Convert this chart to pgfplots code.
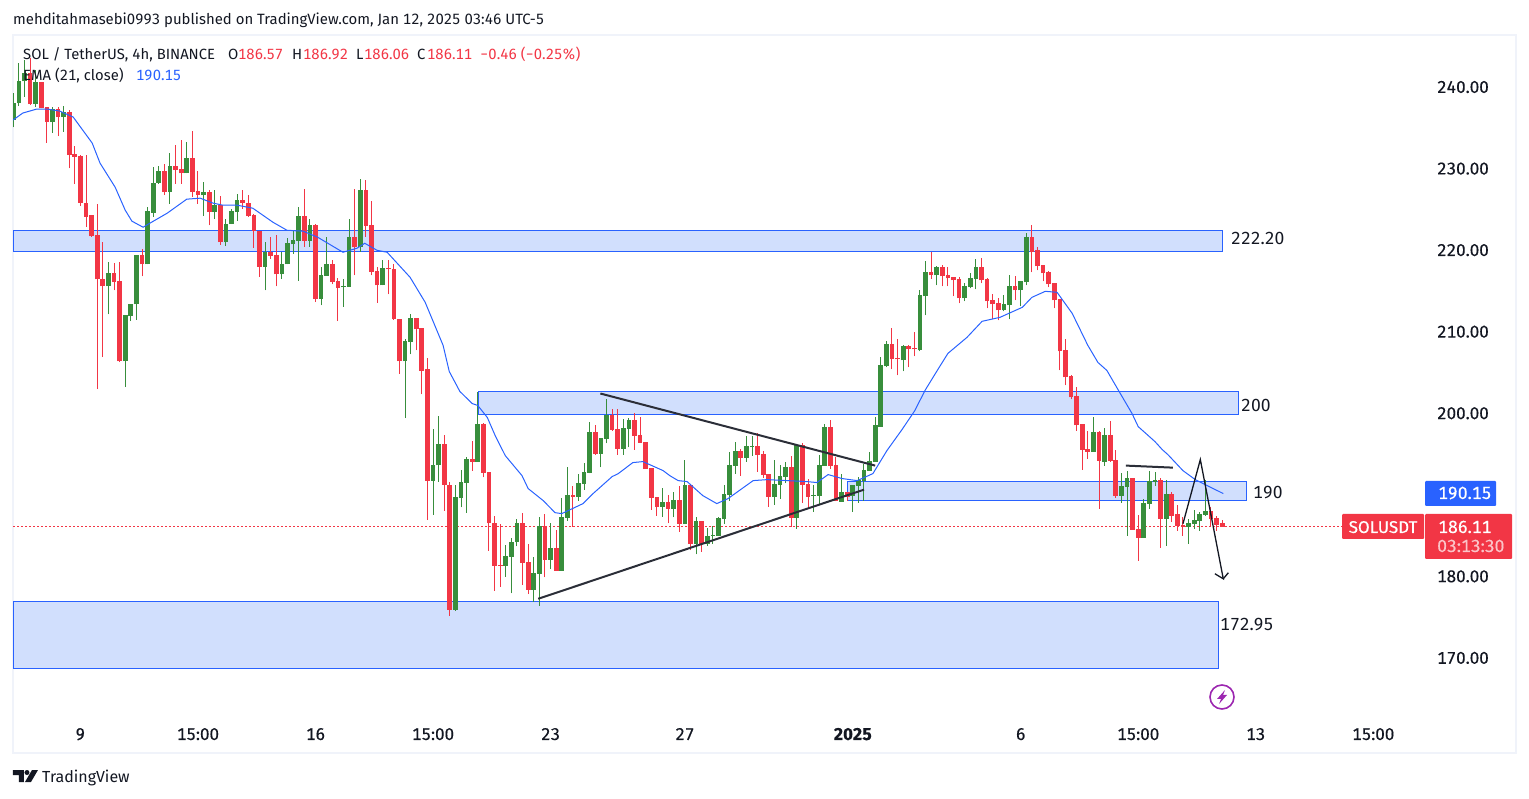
\documentclass[border=0pt]{standalone}
\usepackage{pgfplots}
\usepackage{pgfplotstable}
\usepackage{fontspec}
\setmainfont[Numbers=Monospaced]{Fira Sans}
\newfontfamily\heavy[Numbers=Monospaced, FakeBold=0.35]{Fira Sans}
\pgfplotsset{compat=1.18}

\definecolor{upc}{HTML}{388E3C}
\definecolor{dnc}{HTML}{F23645}
\definecolor{tvblue}{HTML}{2962FF}
\definecolor{zone}{HTML}{D1DFFD}
\definecolor{ink}{HTML}{131722}
\definecolor{pane}{HTML}{F0F3FA}
\definecolor{bolt}{HTML}{9C27B0}

% up candles (i open high low close)
\pgfplotstableread{
i o h l c
0 235.95 239.22 235.05 237.99
1 237.99 242.90 237.67 240.74
2 240.70 243.30 238.81 241.68
4 237.91 242.09 237.58 240.65
7 235.70 237.58 234.39 237.30
9 236.32 237.67 234.51 236.93
17 215.56 218.55 212.13 217.24
20 206.35 212.00 203.20 212.00
21 211.88 213.44 211.31 213.44
22 213.35 219.37 211.47 219.37
24 218.26 225.30 218.26 224.77
25 224.57 230.20 224.08 228.29
26 228.25 230.30 228.17 229.68
28 227.11 231.85 225.71 230.30
31 229.40 233.25 229.40 231.28
34 226.74 228.38 224.16 227.11
36 224.65 227.35 223.79 225.51
38 220.97 223.79 220.48 223.18
39 223.18 225.10 223.18 224.81
40 224.65 226.94 223.59 226.12
45 217.94 221.01 215.07 219.82
48 217.04 219.78 216.46 218.35
49 218.26 221.54 218.26 220.88
50 220.72 222.36 219.58 221.21
51 221.13 225.30 216.22 224.16
53 221.13 223.79 220.39 223.05
55 214.01 217.94 213.23 216.91
56 216.83 221.62 216.83 218.26
59 215.44 216.42 213.03 215.60
60 215.48 223.79 215.48 221.58
62 220.35 228.78 219.78 227.35
66 215.69 218.84 215.69 217.77
70 206.35 209.14 199.39 208.81
71 208.72 212.12 207.21 211.71
75 191.74 198.08 187.56 193.70
76 193.62 199.72 191.62 196.24
79 175.90 191.25 175.78 189.77
80 189.65 193.09 188.46 191.62
81 191.49 194.68 187.81 194.44
83 194.07 202.58 194.07 198.70
88 181.30 183.88 179.95 182.53
89 182.41 184.70 177.90 184.25
90 184.17 187.03 183.68 186.58
93 178.35 182.41 176.88 180.44
94 180.32 187.32 176.39 186.21
96 182.04 186.54 180.89 183.51
98 180.69 189.61 180.69 187.32
99 187.20 193.46 186.83 190.02
101 189.77 192.56 189.28 191.49
102 191.37 193.87 190.59 192.84
103 192.72 198.98 192.64 197.75
105 195.05 197.02 193.37 197.02
106 196.89 201.77 196.32 199.80
109 195.67 199.31 194.93 198.25
110 198.12 199.43 195.83 199.23
116 188.55 190.84 187.32 189.16
118 188.30 190.39 187.24 189.40
120 186.46 194.28 186.46 191.25
122 184.00 187.32 182.70 186.83
124 184.00 185.97 183.76 184.99
125 184.99 186.17 183.96 185.11
126 184.99 187.32 184.99 187.20
127 187.08 191.25 186.46 190.14
128 190.02 195.30 189.29 193.71
129 193.58 196.53 192.60 195.42
131 194.57 197.27 194.07 196.04
132 195.96 197.27 194.81 196.04
136 189.78 194.28 188.79 191.37
137 191.25 193.71 189.53 192.35
138 192.23 194.07 191.50 193.46
140 187.20 196.28 185.85 196.16
143 189.90 191.25 187.93 190.02
144 189.90 194.93 188.79 193.71
145 193.58 198.70 193.58 198.37
148 189.16 192.56 189.16 190.39
150 189.90 191.25 187.93 191.25
151 191.13 192.15 189.04 191.86
152 191.74 193.83 189.29 193.09
153 192.97 195.30 192.97 194.20
154 194.07 199.60 194.07 198.50
155 198.37 206.85 198.37 205.87
156 205.74 208.81 205.62 208.44
159 206.48 208.32 205.13 208.20
162 207.71 215.07 207.58 214.46
163 214.34 218.64 212.00 217.28
165 216.92 218.02 215.69 217.90
170 214.09 215.93 213.72 215.57
171 215.44 217.16 215.32 216.55
172 216.43 218.88 215.20 217.90
177 212.62 214.46 212.50 213.36
178 213.23 216.92 211.51 215.57
180 215.07 216.18 213.11 216.18
181 216.06 222.07 215.69 221.58
193 195.30 199.48 195.30 197.76
195 194.08 198.25 193.58 197.39
198 189.90 192.72 189.04 191.13
199 191.01 192.97 185.00 192.11
202 184.74 189.49 184.74 189.04
203 188.92 192.97 188.30 191.74
204 191.62 192.85 191.13 191.87
206 187.08 191.87 183.76 190.15
210 186.09 187.08 184.01 186.59
211 186.46 188.18 185.85 186.95
212 186.83 187.94 185.60 187.69
213 187.57 191.87 187.44 188.06
}\upcandles

% down candles (i open high low close)
\pgfplotstableread{
i o h l c
3 241.68 243.52 237.79 237.91
5 240.65 240.65 237.38 237.38
6 237.58 237.60 233.16 235.74
8 237.30 237.58 233.98 236.32
10 236.93 237.17 230.01 231.65
11 231.77 232.75 228.09 231.44
12 231.53 231.65 225.39 225.80
13 225.84 231.65 222.85 224.08
14 224.28 224.28 221.62 221.70
15 221.83 225.63 202.96 216.42
16 216.50 221.01 206.89 215.56
18 217.24 218.47 215.07 216.09
19 216.18 218.55 206.27 206.35
23 219.37 220.19 216.79 218.26
27 229.68 230.54 226.74 227.11
29 230.30 232.88 228.17 229.81
30 229.89 233.49 228.17 229.40
32 231.28 234.60 226.53 227.11
33 227.23 229.73 225.71 226.74
35 227.11 227.43 223.05 224.65
37 225.51 226.61 220.64 220.97
41 226.12 227.43 225.10 225.80
42 225.84 226.74 224.08 224.16
43 224.28 224.49 220.31 222.36
44 222.36 222.36 216.71 217.94
46 219.82 221.62 218.96 219.29
47 219.37 221.83 215.56 217.04
52 224.16 227.47 220.39 221.13
54 223.05 223.26 213.64 214.01
57 218.26 218.84 215.81 216.09
58 216.18 216.63 211.31 215.36
61 221.58 227.47 216.91 220.35
63 227.35 228.58 221.62 222.97
64 223.05 226.04 216.91 217.32
65 217.41 217.94 213.52 215.69
67 217.77 218.76 214.58 217.65
68 217.65 218.26 211.47 211.55
69 211.59 211.59 204.84 206.35
72 211.71 211.71 207.70 210.28
73 210.40 210.40 202.30 205.24
74 205.37 206.80 186.95 191.74
77 196.24 197.39 188.05 191.25
78 191.25 191.53 175.16 175.90
82 194.44 196.65 192.97 194.07
84 198.70 198.86 192.15 192.72
85 192.80 192.80 183.14 186.50
86 186.54 187.44 178.23 181.30
87 181.42 186.42 178.72 181.30
91 186.58 187.81 178.97 181.67
92 181.79 183.96 177.82 178.35
95 186.21 187.64 179.87 182.04
97 183.51 185.72 180.69 180.69
100 190.02 191.12 186.09 189.77
104 197.75 198.57 194.93 195.01
107 199.80 200.54 197.80 198.00
108 198.12 200.46 194.93 195.67
111 199.23 200.05 195.54 197.26
112 197.39 199.60 196.40 196.40
113 196.53 196.53 193.21 193.21
114 193.33 193.33 188.18 189.65
115 189.77 189.77 187.44 188.55
117 189.16 190.02 186.50 188.30
119 189.41 191.13 185.48 186.46
121 191.25 191.33 183.23 184.00
123 186.83 186.83 183.02 184.00
130 195.42 195.63 192.35 194.57
133 196.04 197.63 192.85 194.93
134 195.06 195.42 192.11 192.48
135 192.60 192.60 188.55 189.78
139 193.46 194.81 186.09 187.20
141 196.16 196.41 189.04 191.25
142 191.37 191.95 188.30 189.78
146 198.37 199.23 193.21 193.58
147 193.71 194.69 189.20 189.29
149 190.39 190.39 189.29 189.78
157 208.44 210.41 205.37 206.60
158 206.72 209.06 204.64 206.60
160 208.20 208.40 205.62 207.83
161 207.95 209.92 206.97 207.87
164 217.28 219.74 216.43 216.92
166 217.90 218.15 215.57 216.79
167 216.92 217.90 215.57 216.55
168 216.67 216.67 214.34 216.30
169 216.43 216.71 213.48 214.09
173 217.90 219.00 215.93 216.30
174 216.43 216.55 212.86 213.72
175 213.85 214.58 211.51 213.36
176 213.48 214.09 211.39 212.62
179 215.57 216.80 213.85 215.07
182 221.58 223.06 217.28 219.74
183 219.99 220.35 217.53 218.02
184 218.15 218.15 216.18 217.16
185 217.28 217.41 215.44 215.81
186 215.93 215.93 212.86 213.85
187 213.97 213.97 205.25 207.58
188 207.71 209.06 203.41 204.39
189 204.51 204.64 201.69 201.94
190 202.06 203.20 197.88 198.50
191 198.62 198.62 193.09 195.55
192 195.67 197.88 194.44 195.30
194 197.76 197.88 188.30 194.20
196 197.39 198.99 194.08 194.20
197 194.32 195.55 189.65 189.90
200 192.11 192.11 185.73 185.73
201 185.85 187.57 181.92 184.74
205 191.87 192.07 183.52 187.08
207 190.15 190.39 186.71 187.44
208 187.69 188.80 185.60 186.22
209 186.34 187.24 185.00 186.09
214 188.06 188.55 186.22 187.08
215 187.20 187.44 185.60 186.34
216 186.57 186.92 186.06 186.11
}\downcandles

% EMA 21
\pgfplotstableread{
i v
-0.05 235.95
1.7 236.81
4.2 237.30
6.0 237.30
8.3 237.05
10.7 236.32
14.1 233.13
15.5 230.67
18.2 227.72
20.0 224.90
21.2 223.55
23.2 222.81
24.4 223.30
27.5 224.53
31.0 226.25
33.4 226.37
35.7 225.76
37.5 225.51
40.0 225.51
42.8 225.14
46.4 223.42
48.9 222.44
51.8 222.32
54.4 221.58
58.9 219.74
61.4 220.23
62.8 220.84
65.0 219.98
66.8 219.74
68.6 218.39
70.9 216.67
73.6 213.60
76.8 208.32
77.9 205.12
79.8 202.67
82.0 201.19
83.0 200.95
84.7 199.48
86.1 197.27
87.9 194.81
90.9 192.35
92.0 190.76
94.7 189.28
96.8 187.81
98.0 187.69
101.8 188.92
103.6 190.15
107.0 192.23
108.1 192.60
110.7 193.95
112.5 194.07
116.1 192.97
117.3 192.35
118.8 191.74
120.4 191.62
123.2 189.90
125.7 188.92
127.7 189.53
132.2 191.74
134.7 191.86
141.8 191.62
143.6 191.50
145.6 192.48
148.1 191.99
150.8 191.74
153.6 192.60
156.1 195.42
158.8 198.00
161.1 200.34
162.9 202.79
165.1 205.25
167.0 207.34
170.4 209.30
173.1 211.27
176.3 211.76
180.3 212.99
182.0 214.21
184.4 214.95
186.5 214.83
189.2 212.25
192.0 208.32
193.8 206.23
195.4 205.25
197.8 202.42
199.9 199.96
201.0 198.36
204.0 196.52
205.3 195.54
206.3 194.93
209.0 192.96
211.2 191.86
216.2 190.15
}\ema

% wick and body of one colour
\newcommand{\candles}[2]{%
  \addplot[draw=none, no markers, forget plot, error bars/.cd, y dir=plus, y explicit, error mark=none,
    error bar style={draw=#2, line width=1pt}]
    table[x=i, y=l, y error plus expr=\thisrow{h}-\thisrow{l}] {#1};
  \addplot[draw=none, no markers, forget plot, error bars/.cd, y dir=plus, y explicit, error mark=none,
    error bar style={draw=#2, line width=4.7pt}]
    table[x=i, y expr={min(\thisrow{o},\thisrow{c})}, y error plus expr={abs(\thisrow{o}-\thisrow{c})}] {#1};
}
\newcommand{\zonebox}[4]{%
  \addplot[fill=zone, draw=tvblue, line width=1pt, forget plot] coordinates {(#1,#3) (#2,#3) (#2,#4) (#1,#4)} -- cycle;
}
\newcommand{\fs}[1]{\fontsize{#1}{#1}\selectfont}

\begin{document}
\begin{tikzpicture}
\path[use as bounding box] (-13pt,-45pt) rectangle (1516pt,753pt);
\begin{axis}[
    at={(0pt,0pt)}, anchor=south west,
    scale only axis,
    width=1503pt, height=718pt,
    xmin=-0.05, xmax=268.5,
    ymin=158.34, ymax=246.38,
    axis line style={draw=pane, line width=2.5pt},
    major tick length=0pt,
    ytick={170,180,200,210,220,230,240},
    yticklabel pos=right,
    yticklabel style={anchor=east, xshift=-27pt, inner sep=0pt, text=ink, font=\heavy\fs{17}},
    /pgf/number format/assume math mode=true,
    /pgf/number format/fixed,
    /pgf/number format/fixed zerofill,
    /pgf/number format/precision=2,
    scaled y ticks=false,
    xtick={12,33,54,75,96,120,150,180,201,222,243},
    xticklabels={9,15:00,16,15:00,23,27,\textbf{2025},6,15:00,13,15:00},
    xticklabel style={anchor=base, yshift=13pt, inner sep=0pt, text=ink, font=\heavy\fs{17}},
]
% zones
\zonebox{-0.05}{216.0}{219.86}{222.44}
\zonebox{83.04}{219.0}{199.84}{202.67}
\zonebox{148.98}{220.3}{189.28}{191.61}
\zonebox{-0.05}{215.3}{168.65}{176.88}
% last price line
\addplot[color=dnc, line width=1.1pt, dash pattern=on 1.5pt off 2.5pt, forget plot] coordinates {(-0.05,186.11) (237.4,186.11)};
\candles{\upcandles}{upc}
\candles{\downcandles}{dnc}
\addplot[tvblue, line width=1pt, forget plot] table[x=i, y=v] {\ema};
% drawn trend lines
\addplot[ink!90, line width=2pt, forget plot] coordinates {(104.9,202.42) (154.0,193.58)};
\addplot[ink!90, line width=2pt, forget plot] coordinates {(93.8,177.25) (152.0,190.63)};
\addplot[ink!90, line width=2pt, forget plot] coordinates {(198.8,193.58) (207.2,193.33)};
\addplot[ink, line width=1.3pt, forget plot] coordinates {(209.0,186.46) (212.1,194.32) (216.2,179.70) (214.7,180.32)};
\addplot[ink, line width=1.3pt, forget plot] coordinates {(216.2,179.70) (217.1,180.44)};
\end{axis}

% everything below is in reference pixels
\begin{scope}[shift={(-13pt,753pt)}, x=1pt, y=-1pt, every node/.style={inner sep=0pt, text=ink}]
\node[anchor=base west, font=\fs{14.9}] at (13,25) {mehditahmasebi0993 published on TradingView.com, Jan 12, 2025 03:46 UTC-5};
\node[anchor=base west, font=\fs{14.8}] at (23,60) {SOL / TetherUS, 4h, BINANCE};
\node[anchor=base west, font=\fs{14.8}] at (228,60) {O};
\node[anchor=base west, font=\fs{14.8}, text=dnc] at (238,60) {186.57};
\node[anchor=base west, font=\fs{14.8}] at (292,60) {H};
\node[anchor=base west, font=\fs{14.8}, text=dnc] at (303,60) {186.92};
\node[anchor=base west, font=\fs{14.8}] at (356,60) {L};
\node[anchor=base west, font=\fs{14.8}, text=dnc] at (364,60) {186.06};
\node[anchor=base west, font=\fs{14.8}] at (417,60) {C};
\node[anchor=base west, font=\fs{14.8}, text=dnc] at (427,60) {186.11};
\node[anchor=base west, font=\fs{14.8}, text=dnc] at (480,60) {−0.46 (−0.25\%)};
\node[anchor=base west, font=\fs{14.8}] at (23,81) {EMA (21, close)};
\node[anchor=base west, font=\fs{14.8}, text=tvblue] at (136,81) {190.15};
% zone labels
\node[anchor=base west, font=\fs{17.5}] at (1231,245) {222.20};
\node[anchor=base west, font=\fs{17.5}] at (1241,412) {200};
\node[anchor=base west, font=\fs{17.5}] at (1253,499) {190};
\node[anchor=base west, font=\fs{17.5}] at (1220,631) {172.95};
% price tags
\fill[tvblue, rounded corners=1pt] (1425,481) rectangle (1496,506);
\fill[dnc, rounded corners=1pt] (1342,514) rectangle (1424,539);
\fill[dnc, rounded corners=1pt] (1425,514) rectangle (1512,559);
\node[text=white, anchor=base west, font=\heavy\fs{17.5}] at (1438,499) {190.15};
\node[text=white, anchor=base, font=\heavy\fs{17}] at (1383,533) {SOLUSDT};
\node[text=white, anchor=base west, font=\heavy\fs{17.5}] at (1438,533) {186.11};
\node[text=white!70!dnc, anchor=base west, font=\heavy\fs{17.5}] at (1437,552) {03:13:30};
% lightning badge
\draw[bolt, line width=1.6pt] (1222,697) circle (12);
\fill[bolt] (1225,690) -- (1217,699) -- (1221,699) -- (1219,704) -- (1227,695) -- (1223,695) -- cycle;
% logo
\fill[ink] (13,770) rectangle (24,775) (19,775) rectangle (24,782);
\fill[ink] (27,772.5) circle (2.5);
\fill[ink] (32,770) -- (38,770) -- (31,782) -- (25,782) -- cycle;
\node[anchor=base west, font=\fs{16}] at (42,782) {TradingView};
\end{scope}
\end{tikzpicture}
\end{document}
